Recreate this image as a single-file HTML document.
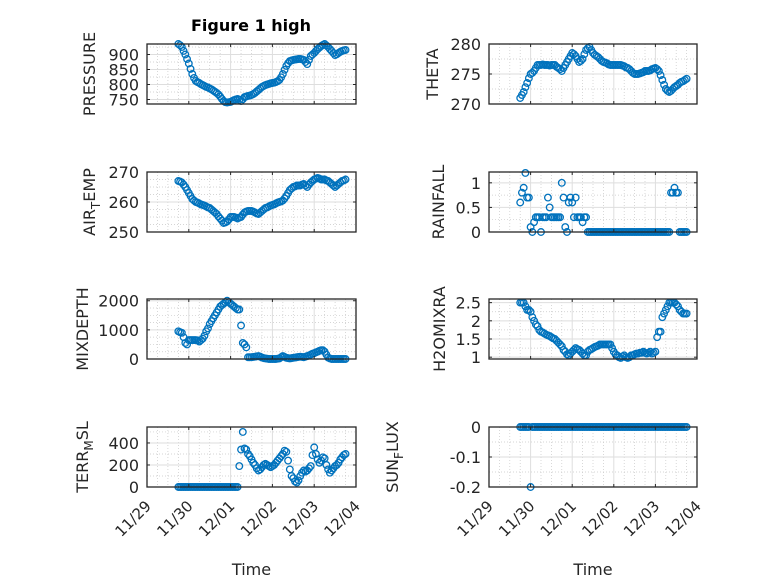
<!DOCTYPE html>
<html><head><meta charset="utf-8"><style>
html,body{margin:0;padding:0;background:#fff;}
svg{display:block;font-family:"DejaVu Sans","Liberation Sans",sans-serif;}
</style></head><body>
<svg id="fig" width="778" height="583" viewBox="0 0 778 583" xmlns="http://www.w3.org/2000/svg">
<rect width="778" height="583" fill="#fff"/>
<text x="251" y="31" font-size="16" font-weight="bold" text-anchor="middle" fill="#000">Figure 1 high</text>
</svg>
<script>
// hourly samples from day 0.75 to 4.75 after 11/29
const tStart = 0.75;
const tEnd = 4.75;
const dayLabels = ["11/29","11/30","12/01","12/02","12/03","12/04"];
const pressure = [935,931,925,912,900,885,870,852,835,822,812,808,805,801,798,795,792,790,787,784,780,776,772,767,760,752,745,741,740,741,742,745,748,750,752,749,745,751,758,760,762,763,765,768,772,777,782,787,792,795,798,800,802,804,805,806,808,811,815,824,835,849,862,871,878,880,882,883,884,885,885,884,882,875,868,882,895,900,905,912,918,923,928,932,935,930,925,918,912,905,898,901,905,909,912,914,915];
const theta = [271,271.5,272,272.8,273.5,274.3,275,275.2,275.5,276,276.5,276.5,276.5,276.6,276.5,276.5,276.5,276.4,276.5,276.5,276.5,276.2,276,275.8,275.5,276,276.5,277,277.5,278,278.5,278.3,278,277.5,277,277.2,277.5,278.3,279,279.3,279.5,279,278.5,278.2,278,277.8,277.5,277.2,277,276.9,276.8,276.6,276.5,276.5,276.5,276.5,276.5,276.5,276.5,276.4,276.3,276.1,276,275.8,275.5,275.2,275,275,275,275.1,275.2,275.3,275.5,275.5,275.5,275.6,275.8,275.9,276,275.8,275.5,274.8,274,273.2,272.5,272.2,272,272.2,272.5,272.8,273,273.2,273.5,273.7,273.8,274,274.2];
const airTemp = [267,266.8,266.5,265.8,265,264,263,262,261,260.5,260,259.8,259.5,259.2,259,258.8,258.5,258.2,258,257.5,257,256.5,256,255.2,254.5,253.8,253,253.2,253.5,254.2,255,255,255,254.8,254.5,254.8,255,255.8,256.5,256.8,257,257,257,256.8,256.5,256.2,256,256.5,257,257.5,258,258.2,258.5,258.8,259,259.2,259.5,259.8,260,260.2,260.5,261.2,262,263,264,264.5,265,265.2,265.5,265.5,265.5,265.8,266,265.5,265,265.8,266.5,267,267.5,267.8,268,267.8,267.5,267.5,267.5,267.2,267,266.5,266,265.5,265,265.5,266,266.5,267,267.2,267.5];
const rainfall = [0.6,0.8,0.9,1.2,0.7,0.7,0.1,0,0.2,0.3,0.3,0.3,0,0.3,0.3,0.3,0.7,0.5,0.3,0.3,0.3,0.3,0.3,0.3,1.0,0.7,0.1,0,0.6,0.7,0.6,0.3,0.7,0.3,0.3,0.3,0.2,0.3,0.3,0,0,0,0,0,0,0,0,0,0,0,0,0,0,0,0,0,0,0,0,0,0,0,0,0,0,0,0,0,0,0,0,0,0,0,0,0,0,0,0,0,0,0,0,0,0,0,0,0.8,0.8,0.9,0.8,0.8,0,0,0,0,0];
const mixDepth = [950,920,900,750,550,500,650,650,650,650,650,640,600,650,700,800,950,1050,1200,1300,1400,1500,1600,1700,1800,1850,1900,1950,2000,1950,1900,1850,1800,1750,1700,1700,1150,550,500,400,60,60,60,70,80,90,100,80,50,30,20,10,0,0,0,0,0,10,20,60,100,70,40,30,20,30,40,50,60,70,80,70,60,80,100,120,150,180,200,230,250,280,300,300,250,150,50,20,0,0,0,0,0,0,0,0,0];
const h2oMix = [2.5,2.5,2.5,2.4,2.3,2.3,2.25,2.1,2.0,1.9,1.85,1.75,1.7,1.68,1.65,1.62,1.6,1.58,1.55,1.52,1.5,1.45,1.4,1.35,1.3,1.2,1.15,1.08,1.05,1.1,1.15,1.2,1.25,1.22,1.2,1.15,1.1,1.05,1.05,1.15,1.2,1.22,1.25,1.28,1.3,1.32,1.35,1.35,1.35,1.35,1.35,1.35,1.35,1.25,1.15,1.08,1.05,1.0,0.98,1.02,1.05,1.0,0.98,1.0,1.05,1.05,1.08,1.1,1.1,1.12,1.12,1.15,1.12,1.1,1.12,1.15,1.1,1.12,1.15,1.55,1.7,1.7,2.1,2.2,2.3,2.4,2.5,2.5,2.5,2.5,2.45,2.4,2.3,2.25,2.2,2.2,2.2];
const terrMsl = [0,0,0,0,0,0,0,0,0,0,0,0,0,0,0,0,0,0,0,0,0,0,0,0,0,0,0,0,0,0,0,0,0,0,0,190,340,500,350,340,300,280,250,220,200,170,150,160,180,200,210,200,190,180,190,200,220,240,260,280,300,330,320,240,160,100,80,50,40,60,100,130,150,140,150,170,190,290,360,300,250,220,240,270,260,200,160,130,150,170,190,200,220,250,270,290,300];
const sunFlux = [0,0,0,0,0,0,-0.2,0,0,0,0,0,0,0,0,0,0,0,0,0,0,0,0,0,0,0,0,0,0,0,0,0,0,0,0,0,0,0,0,0,0,0,0,0,0,0,0,0,0,0,0,0,0,0,0,0,0,0,0,0,0,0,0,0,0,0,0,0,0,0,0,0,0,0,0,0,0,0,0,0,0,0,0,0,0,0,0,0,0,0,0,0,0,0,0,0,0];

const NS = "http://www.w3.org/2000/svg";
const svg = document.getElementById("fig");
function mk(tag, attrs, parent) {
  const e = document.createElementNS(NS, tag);
  for (const k in attrs) e.setAttribute(k, attrs[k]);
  (parent || svg).appendChild(e);
  return e;
}
const panels = [
  {name:"pressure", label:["PRESSURE"], data:pressure, x0:147, x1:356, y0:44, y1:104, ymin:735, ymax:935, ticks:[750,800,850,900], minor:[775,825,875,925], labX:95},
  {name:"theta", label:["THETA"], data:theta, x0:489, x1:697, y0:44, y1:104, ymin:270, ymax:280, ticks:[270,275,280], minor:[272.5,277.5], labX:438},
  {name:"air-temp", label:["AIR","T","EMP"], data:airTemp, x0:147, x1:356, y0:172, y1:232, ymin:250, ymax:270, ticks:[250,260,270], minor:[252.5,255,257.5,262.5,265,267.5], labX:95},
  {name:"rainfall", label:["RAINFALL"], data:rainfall, x0:489, x1:697, y0:172, y1:232, ymin:0, ymax:1.22, ticks:[0,0.5,1], minor:[0.25,0.75], labX:444},
  {name:"mixdepth", label:["MIXDEPTH"], data:mixDepth, x0:147, x1:356, y0:299, y1:359, ymin:0, ymax:2060, ticks:[0,1000,2000], minor:[250,500,750,1250,1500,1750], labX:88},
  {name:"h2o-mix-ratio", label:["H2OMIXRA"], data:h2oMix, x0:489, x1:697, y0:299, y1:359, ymin:0.95, ymax:2.6, ticks:[1,1.5,2,2.5], minor:[1.25,1.75,2.25], labX:445},
  {name:"terr-msl", label:["TERR","M","SL"], data:terrMsl, x0:147, x1:356, y0:427, y1:487, ymin:0, ymax:545, ticks:[0,200,400], minor:[100,300,500], labX:88, bottom:true},
  {name:"sun-flux", label:["SUN","F","LUX"], data:sunFlux, x0:489, x1:697, y0:427, y1:487, ymin:-0.2, ymax:0, ticks:[-0.2,-0.1,0], minor:[-0.15,-0.05], labX:398, bottom:true}
];
panels.forEach(p => {
  const g = mk("g", {});
  
  
  const xs = d => p.x0 + (d / 5) * (p.x1 - p.x0);
  const ys = v => p.y1 - (v - p.ymin) / (p.ymax - p.ymin) * (p.y1 - p.y0);
  for (let d = 0; d < 5; d++) for (let q = 1; q < 4; q++) {
    const x = xs(d + q / 4);
    mk("line", {x1:x, x2:x, y1:p.y0, y2:p.y1, stroke:"#c8c8c8", "stroke-width":0.7, "stroke-dasharray":"1,2"}, g);
  }
  p.minor.forEach(v => {
    const y = ys(v);
    mk("line", {x1:p.x0, x2:p.x1, y1:y, y2:y, stroke:"#c8c8c8", "stroke-width":0.7, "stroke-dasharray":"1,2"}, g);
  });
  for (let d = 1; d < 5; d++) {
    const x = xs(d);
    mk("line", {x1:x, x2:x, y1:p.y0, y2:p.y1, stroke:"#dedede", "stroke-width":1}, g);
  }
  p.ticks.forEach(v => {
    const y = ys(v);
    if (y > p.y0 + 1 && y < p.y1 - 1) mk("line", {x1:p.x0, x2:p.x1, y1:y, y2:y, stroke:"#dedede", "stroke-width":1}, g);
  });
  const n = p.data.length;
  p.data.forEach((v, i) => {
    const t = tStart + (tEnd - tStart) * i / (n - 1);
    const c = mk("circle", {cx:xs(t).toFixed(2), cy:ys(v).toFixed(2), r:3.3, fill:"none", stroke:"#0072BD", "stroke-width":1.3}, g);
    
    
  });
  mk("rect", {x:p.x0, y:p.y0, width:p.x1 - p.x0, height:p.y1 - p.y0, fill:"none", stroke:"#262626", "stroke-width":1.3}, g);
  for (let d = 0; d <= 5; d++) {
    const x = xs(d);
    mk("line", {x1:x, x2:x, y1:p.y1, y2:p.y1 - 3, stroke:"#262626", "stroke-width":1}, g);
    mk("line", {x1:x, x2:x, y1:p.y0, y2:p.y0 + 3, stroke:"#262626", "stroke-width":1}, g);
    if (p.bottom) {
      const t = mk("text", {x:x + 5, y:p.y1 + 20, "font-size":15, "text-anchor":"end", fill:"#262626", transform:`rotate(-45 ${x + 5} ${p.y1 + 20})`}, g);
      t.textContent = dayLabels[d];
      
      
    }
  }
  p.ticks.forEach(v => {
    const y = ys(v);
    mk("line", {x1:p.x0, x2:p.x0 + 3, y1:y, y2:y, stroke:"#262626", "stroke-width":1}, g);
    mk("line", {x1:p.x1, x2:p.x1 - 3, y1:y, y2:y, stroke:"#262626", "stroke-width":1}, g);
    const t = mk("text", {x:p.x0 - 8, y:y + 6, "font-size":16, "text-anchor":"end", fill:"#262626"}, g);
    t.textContent = String(v);
    
    
  });
  const cy = (p.y0 + p.y1) / 2;
  const lab = mk("text", {x:p.labX, y:cy, "font-size":16, "text-anchor":"middle", fill:"#262626", transform:`rotate(-90 ${p.labX} ${cy})`}, g);
  
  
  p.label.forEach((s, k) => {
    const ts = mk("tspan", {}, lab);
    if (k === 1) { ts.setAttribute("font-size", "12"); ts.setAttribute("dy", "5"); }
    if (k === 2) { ts.setAttribute("dy", "-5"); }
    ts.textContent = s;
  });
  if (p.bottom) {
    const tl = mk("text", {x:(p.x0 + p.x1) / 2, y:575, "font-size":16, "text-anchor":"middle", fill:"#262626"}, g);
    tl.textContent = "Time";
    
    
  }
});
</script>
</body></html>
